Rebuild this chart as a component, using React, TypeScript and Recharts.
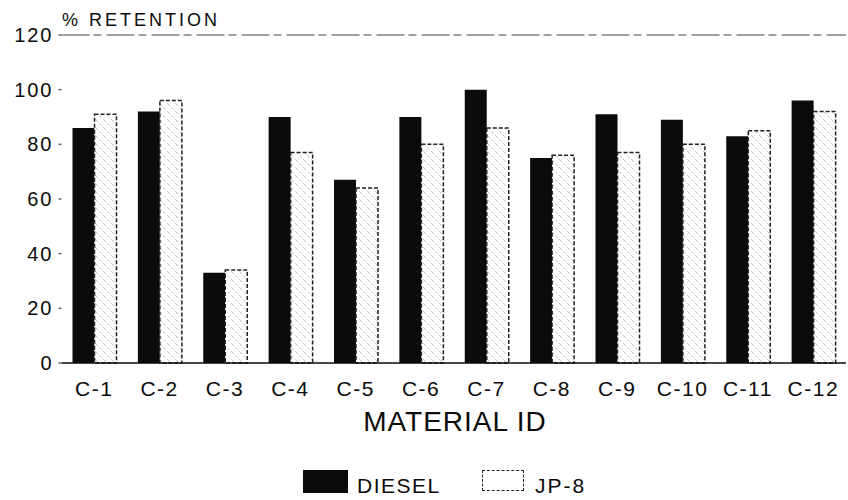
import { Bar, BarChart, ReferenceLine, XAxis, YAxis } from "recharts"

const categories = ["C-1", "C-2", "C-3", "C-4", "C-5", "C-6", "C-7", "C-8", "C-9", "C-10", "C-11", "C-12"]
const diesel = [86, 92, 33, 90, 67, 90, 100, 75, 91, 89, 83, 96]
const jp8 = [91, 96, 34, 77, 64, 80, 86, 76, 77, 80, 85, 92]
const yTicks = [0, 20, 40, 60, 80, 100, 120]

const data = categories.map((name, i) => ({ name, diesel: diesel[i], jp8: jp8[i] }))

const font = "'Liberation Sans', Arial, Helvetica, sans-serif"
const ink = "#0b0b0b"

export default function App() {
  return (
    <div style={{ position: "absolute", left: 0, top: 0, width: 848, height: 500, background: "#fff", fontFamily: font }}>
      <BarChart
        width={848}
        height={500}
        data={data}
        margin={{ top: 35, right: 2, left: 0, bottom: 97 }}
        barCategoryGap={11}
        barGap={0}
      >
        <defs>
          <pattern id="hatch" patternUnits="userSpaceOnUse" width="8" height="8">
            <rect width="8" height="8" fill="#fff" />
            <path d="M0,0 L8,8 M-1,7 L1,9 M7,-1 L9,1" stroke="#b4b4b4" strokeWidth="0.8" strokeDasharray="3 2" />
          </pattern>
        </defs>
        <XAxis
          dataKey="name"
          height={40}
          tickLine={false}
          axisLine={{ stroke: ink, strokeWidth: 1.5 }}
          tickSize={6}
          tickMargin={12}
          interval={0}
          tick={{ fontSize: 21, fill: ink, letterSpacing: 1.5, fontFamily: font }}
        />
        <YAxis
          width={61.5}
          domain={[0, 120]}
          ticks={yTicks}
          interval={0}
          axisLine={false}
          tickLine={{ stroke: "#666", strokeWidth: 1.5 }}
          tickSize={3}
          tickMargin={5}
          tick={{ fontSize: 20, fill: ink, letterSpacing: 2, fontFamily: font }}
        />
        <ReferenceLine y={120} stroke="#444" strokeWidth={1} strokeDasharray="28 4 8 5" />
        <Bar dataKey="diesel" fill={ink} isAnimationActive={false} />
        <Bar
          dataKey="jp8"
          fill="url(#hatch)"
          stroke="#222"
          strokeWidth={1.5}
          strokeDasharray="4 2"
          isAnimationActive={false}
        />
      </BarChart>

      <div style={{ position: "absolute", left: 62, top: 11, fontSize: 18, lineHeight: 1, letterSpacing: 3, color: ink, whiteSpace: "nowrap" }}>
        % RETENTION
      </div>
      <div
        style={{
          position: "absolute",
          left: 255,
          width: 400,
          top: 408,
          textAlign: "center",
          fontSize: 28,
          lineHeight: 1,
          letterSpacing: 1,
          color: ink,
        }}
      >
        MATERIAL ID
      </div>

      <div style={{ position: "absolute", left: 303, top: 470, width: 45, height: 23, background: ink }} />
      <div style={{ position: "absolute", left: 357, top: 475, fontSize: 21, lineHeight: 1, letterSpacing: 1.5, color: ink }}>
        DIESEL
      </div>
      <div style={{ position: "absolute", left: 482, top: 470, width: 40, height: 19, border: "1.5px dashed #222", background: "#fff" }} />
      <div style={{ position: "absolute", left: 535, top: 475, fontSize: 21, lineHeight: 1, letterSpacing: 2, color: ink }}>
        JP-8
      </div>
    </div>
  )
}
